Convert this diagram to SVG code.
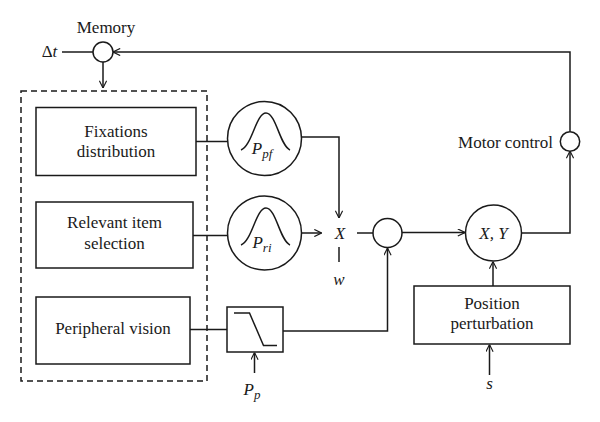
<svg xmlns="http://www.w3.org/2000/svg" width="600" height="422" viewBox="0 0 600 422">
<style>
.ln{fill:none;stroke:#1a1a1a;stroke-width:1.5}
.bx{fill:#fff;stroke:#1a1a1a;stroke-width:1.5}
.t{font-family:"Liberation Serif","DejaVu Serif",serif;font-size:17px;fill:#1a1a1a;text-anchor:middle}
.i{font-style:italic}
.sub{font-size:13px}
</style>
<defs>
<marker id="ar" viewBox="0 0 10 10" refX="10" refY="5" markerWidth="8" markerHeight="8" markerUnits="userSpaceOnUse" orient="auto">
<path d="M1,0.5 L10,5 L1,9.5" fill="none" stroke="#1a1a1a" stroke-width="1.4"/>
</marker>
</defs>
<rect width="600" height="422" fill="#fff"/>

<g id="connectors">
<path class="ln" d="M62,52 H93"/>
<path class="ln" d="M570,131.5 V52 H113" marker-end="url(#ar)"/>
<path class="ln" d="M103,62 V88" marker-end="url(#ar)"/>
<path class="ln" d="M196,141.5 H227.5"/>
<path class="ln" d="M301.5,137 H339 V218" marker-end="url(#ar)"/>
<path class="ln" d="M193,235.5 H227.5"/>
<path class="ln" d="M302,233 H321.5" marker-end="url(#ar)"/>
<path class="ln" d="M339,247 V262"/>
<path class="ln" d="M357,233 H373"/>
<path class="ln" d="M190,329.5 H227"/>
<path class="ln" d="M283,331 H387.5 V248" marker-end="url(#ar)"/>
<path class="ln" d="M254.5,373 V352.5" marker-end="url(#ar)"/>
<path class="ln" d="M402,232.5 H465" marker-end="url(#ar)"/>
<path class="ln" d="M521.5,233 H570 V151" marker-end="url(#ar)"/>
<path class="ln" d="M493,286 V261.5" marker-end="url(#ar)"/>
<path class="ln" d="M489.5,375 V344.5" marker-end="url(#ar)"/>
</g>

<g id="memory">
<circle class="bx" cx="103" cy="52" r="10"/>
<text class="t" x="106" y="33">Memory</text>
</g>
<g id="dt"><text class="t" x="49.5" y="57"><tspan>Δ</tspan><tspan class="i">t</tspan></text></g>

<g id="group-box">
<rect x="21" y="91" width="186" height="290" fill="none" stroke="#1a1a1a" stroke-width="1.5" stroke-dasharray="6,4"/>
</g>
<g id="fixations">
<rect class="bx" x="36" y="107.5" width="160" height="68"/>
<text class="t" x="116" y="137">Fixations</text>
<text class="t" x="116" y="157">distribution</text>
</g>
<g id="relevant">
<rect class="bx" x="36" y="202" width="157" height="66"/>
<text class="t" x="114.5" y="228">Relevant item</text>
<text class="t" x="114.5" y="249">selection</text>
</g>
<g id="peripheral">
<rect class="bx" x="36" y="297" width="154" height="67"/>
<text class="t" x="113" y="334">Peripheral vision</text>
</g>

<g id="ppf">
<circle class="bx" cx="264.5" cy="138.5" r="37"/>
<path class="ln" d="M241,150 C252,146 256,113 266,113 C276,113 280,146 290,150"/>
<text class="t i" x="262" y="154">P<tspan class="sub" dy="4">pf</tspan></text>
</g>
<g id="pri">
<circle class="bx" cx="264.5" cy="233" r="37"/>
<path class="ln" d="M241,245 C252,241 256,208 266,208 C276,208 280,241 290,245"/>
<text class="t i" x="262" y="248">P<tspan class="sub" dy="4">ri</tspan></text>
</g>

<g id="x-node"><text class="t i" x="340" y="239">X</text></g>
<g id="w-label"><text class="t i" x="339" y="285">w</text></g>

<g id="sum">
<circle class="bx" cx="387.5" cy="233" r="14.5"/>
</g>

<g id="filter">
<rect class="bx" x="227" y="307" width="56" height="45"/>
<path class="ln" d="M234,313 H249.5 L263.5,345.5 H277"/>
</g>
<g id="pp-label"><text class="t i" x="252" y="395">P<tspan class="sub" dy="4">p</tspan></text></g>

<g id="xy">
<circle class="bx" cx="493.5" cy="233" r="28"/>
<text class="t i" x="493.5" y="239">X, Y</text>
</g>

<g id="motor">
<circle class="bx" cx="570" cy="141.5" r="9.7"/>
<text class="t" x="553" y="148" style="text-anchor:end">Motor control</text>
</g>

<g id="perturbation">
<rect class="bx" x="414" y="286" width="156" height="58"/>
<text class="t" x="492" y="309">Position</text>
<text class="t" x="492" y="329">perturbation</text>
</g>
<g id="s-label"><text class="t i" x="489.5" y="389">s</text></g>
</svg>
